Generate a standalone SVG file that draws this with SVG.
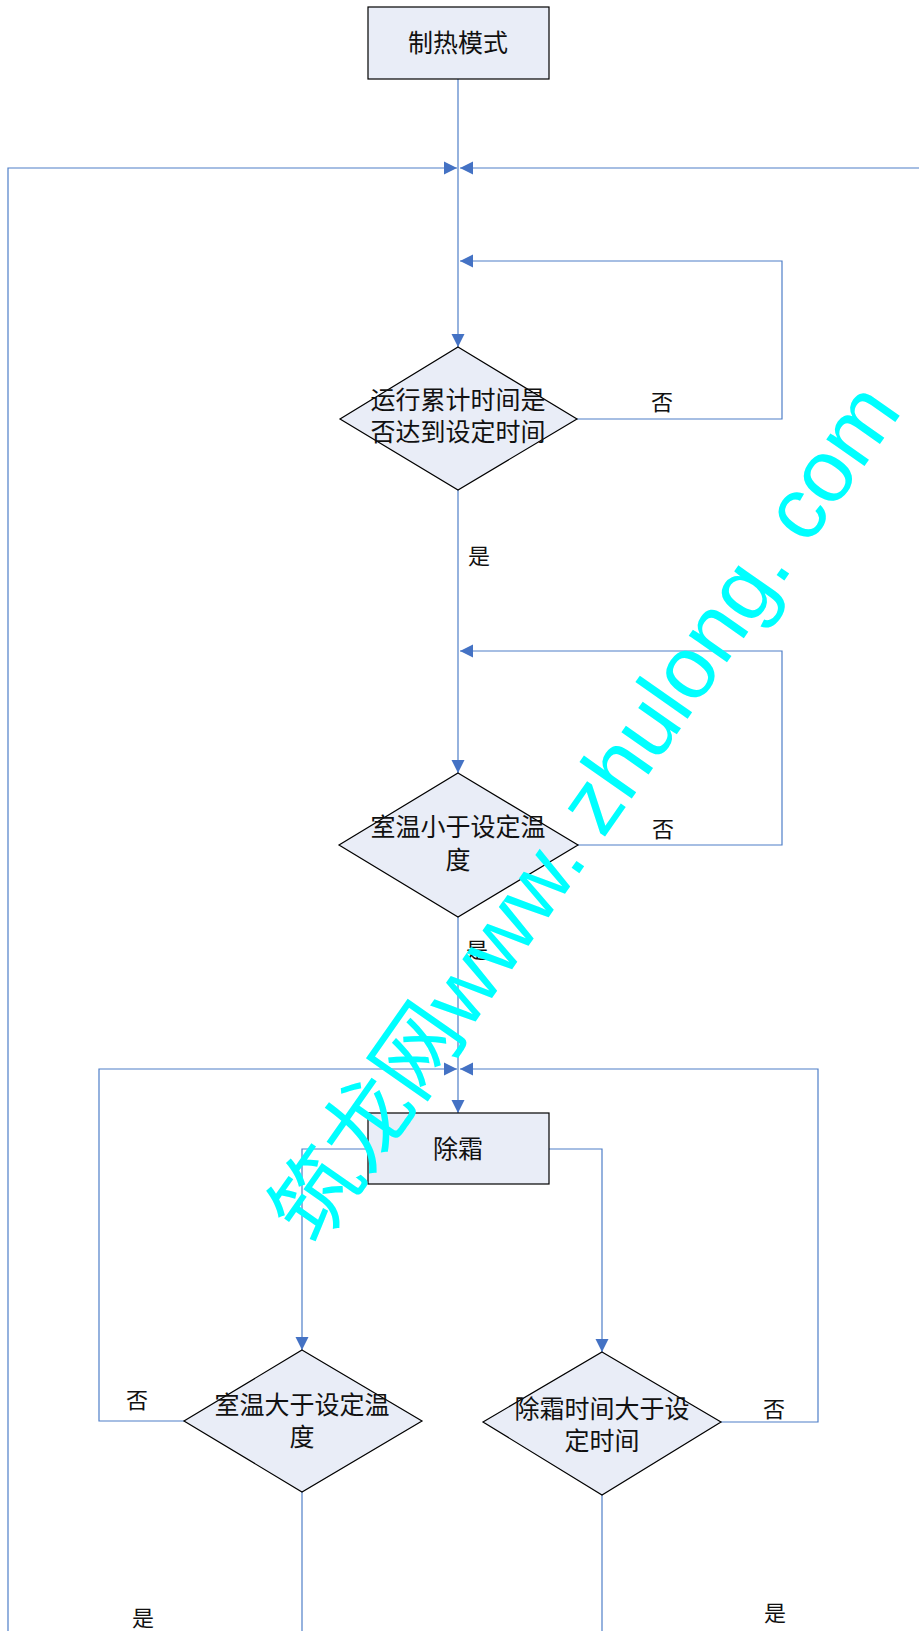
<svg xmlns="http://www.w3.org/2000/svg" width="919" height="1631" viewBox="0 0 919 1631">
<style>
.node{fill:#E9EDF7;stroke:#000;stroke-width:1.2}
.t{font-family:"Liberation Sans","Noto Sans CJK SC",sans-serif;font-size:25px;fill:#111;text-anchor:middle;dominant-baseline:central}
.lb{font-family:"Liberation Sans","Noto Sans CJK SC",sans-serif;font-size:22px;fill:#111;text-anchor:middle;dominant-baseline:central}
.c{fill:none;stroke:#4F7FC8;stroke-width:1.2}
.wm{font-family:"Liberation Sans","Noto Sans CJK SC",sans-serif;font-size:88px;fill:#00FFFF;text-anchor:middle;dominant-baseline:central}
</style>
<defs>
<marker id="a" markerUnits="userSpaceOnUse" markerWidth="14" markerHeight="14" refX="13" refY="7" orient="auto" viewBox="0 0 14 14">
<path d="M0,0.5 L13,7 L0,13.5 z" fill="#4472C4"/>
</marker>
</defs>
<rect width="919" height="1631" fill="#fff"/>
<g id="connectors">
<path class="c" d="M458,79 V347" marker-end="url(#a)"/>
<path class="c" d="M8,1631 V168 H457" marker-end="url(#a)"/>
<path class="c" d="M919,168 H460" marker-end="url(#a)"/>
<path class="c" d="M577,419 H782 V261 H460" marker-end="url(#a)"/>
<path class="c" d="M458,490 V773" marker-end="url(#a)"/>
<path class="c" d="M577,845 H782 V651 H460" marker-end="url(#a)"/>
<path class="c" d="M458,917 V1113" marker-end="url(#a)"/>
<path class="c" d="M184,1421 H99 V1069 H457" marker-end="url(#a)"/>
<path class="c" d="M721,1422 H818 V1069 H460" marker-end="url(#a)"/>
<path class="c" d="M368,1149 H302 V1350" marker-end="url(#a)"/>
<path class="c" d="M549,1149 H602 V1352" marker-end="url(#a)"/>
<path class="c" d="M302,1492 V1631"/>
<path class="c" d="M602,1495 V1631"/>
<text class="lb" x="662" y="402">否</text>
<text class="lb" x="479" y="556">是</text>
<text class="lb" x="663" y="829">否</text>
<text class="lb" x="477" y="950">是</text>
<text class="lb" x="137" y="1400">否</text>
<text class="lb" x="774" y="1409">否</text>
<text class="lb" x="143" y="1618">是</text>
<text class="lb" x="775" y="1613">是</text>
</g>
<g id="start">
<rect class="node" x="368" y="7" width="181" height="72"/>
<text class="t" x="458" y="43">制热模式</text>
</g>
<g id="d1">
<polygon class="node" points="458,347 577,419 458,490 340,419"/>
<text class="t" x="458" y="400">运行累计时间是</text>
<text class="t" x="458" y="432">否达到设定时间</text>
</g>
<g id="d2">
<polygon class="node" points="458,773 578,845 458,917 339,845"/>
<text class="t" x="458" y="827">室温小于设定温</text>
<text class="t" x="458" y="860">度</text>
</g>
<g id="defrost">
<rect class="node" x="368" y="1113" width="181" height="71"/>
<text class="t" x="458" y="1149">除霜</text>
</g>
<g id="d3">
<polygon class="node" points="302,1350 422,1421 302,1492 184,1421"/>
<text class="t" x="302" y="1405">室温大于设定温</text>
<text class="t" x="302" y="1437">度</text>
</g>
<g id="d4">
<polygon class="node" points="602,1352 721,1422 602,1495 483,1422"/>
<text class="t" x="602" y="1409">除霜时间大于设</text>
<text class="t" x="602" y="1441">定时间</text>
</g>
<text class="wm" x="585" y="812" transform="rotate(-55 585 812)">筑龙网www. zhulong. com</text>
</svg>
